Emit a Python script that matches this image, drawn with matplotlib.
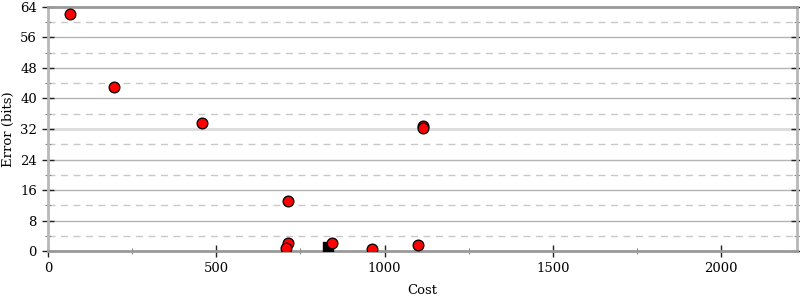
import matplotlib
matplotlib.use("Agg")
import matplotlib.pyplot as plt
from matplotlib.ticker import MultipleLocator

# Cost vs error readings
cost = [64, 195, 458, 714, 714, 706, 843, 962, 1099, 1114, 1114]
error_bits = [62.1, 43.0, 33.7, 13.1, 2.2, 0.7, 2.0, 0.5, 1.6, 32.9, 32.2]
best_cost = [831]
best_error = [1.0]

x_max = 2225
y_max = 64

plt.rcParams['font.family'] = ['DejaVu Serif']

fig = plt.figure(figsize=(8, 3), dpi=100)
ax = fig.add_axes([0.06, 0.163, 0.936, 0.814])

# horizontal grid: solid at major ticks, dashed at minor
for y in range(8, y_max, 8):
    col = '#dcdcdc' if y == 32 else '#b4b4b4'
    lw = 2 if y == 32 else 1
    ax.axhline(y, color=col, lw=lw, zorder=1)
for y in range(4, y_max, 8):
    ax.axhline(y, color='#c8c8c8', lw=1, ls=(0, (5, 4)), zorder=1)

ax.scatter(best_cost, best_error, marker='s', s=60, color='black', zorder=3)
ax.scatter(cost, error_bits, s=60, facecolor='red', edgecolor='black',
           linewidth=0.9, zorder=4)

ax.set_xlim(0, x_max)
ax.set_ylim(0, y_max)
ax.xaxis.set_major_locator(MultipleLocator(500))
ax.xaxis.set_minor_locator(MultipleLocator(250))
ax.yaxis.set_major_locator(MultipleLocator(8))
ax.yaxis.set_minor_locator(MultipleLocator(4))

ax.tick_params(which='both', direction='inout', right=True, labelsize=9.5,
               color='#222222')
ax.tick_params(which='major', length=9, width=1)
ax.tick_params(which='minor', length=5, width=0.8, color='#888888')
ax.tick_params(axis='x', pad=3)

for side in ['left', 'right']:
    ax.spines[side].set_color('#b8b8b8')
    ax.spines[side].set_linewidth(2)
for side in ['top', 'bottom']:
    ax.spines[side].set_color('#999999')
    ax.spines[side].set_linewidth(2)

ax.set_xlabel('Cost', fontsize=9.5, labelpad=7)
ax.set_ylabel('Error (bits)', fontsize=9.5, labelpad=4)

fig.savefig('out.png', dpi=100)
